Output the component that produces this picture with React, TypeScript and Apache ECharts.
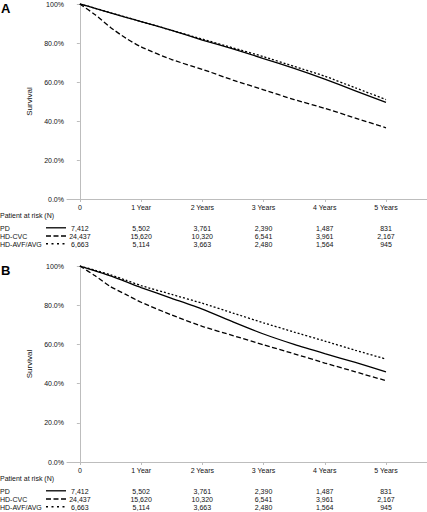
import React, { useEffect, useRef } from "react";
import * as echarts from "echarts";

// time points (years)
const years = [0, 0.25, 0.5, 0.75, 1, 1.5, 2, 2.5, 3, 3.5, 4, 4.5, 5];

// Panel A survival (%)
const aPD = [100, 97.8, 95.5, 93.2, 91, 86.5, 81.5, 77, 72, 67, 61.5, 55.5, 49.5];
const aCVC = [100, 94.5, 88, 82.5, 78, 71.5, 66.5, 61, 56, 51, 46.5, 41.5, 36.5];
const aAVF = [100, 97.8, 95.5, 93.3, 91, 86.5, 82, 77.5, 73, 68, 63, 57, 51];

// Panel B survival (%)
const bPD = [100, 97.5, 95, 92, 89, 83.5, 78, 71.5, 65.3, 60, 55.3, 50.8, 46];
const bCVC = [100, 95, 89.5, 85.5, 81.5, 75, 69.2, 64.5, 59.8, 55.2, 50.5, 46, 41.5];
const bAVF = [100, 97.8, 95.5, 92.8, 90, 85.5, 81, 76, 71, 66.3, 61.7, 57, 52.5];

const xTickValues = [0, 1, 2, 3, 4, 5];
const xTickLabels = ["0", "1 Year", "2 Years", "3 Years", "4 Years", "5 Years"];
const groups = ["PD", "HD-CVC", "HD-AVF/AVG"];
const atRiskPD = ["7,412", "5,502", "3,761", "2,390", "1,487", "831"];
const atRiskCVC = ["24,437", "15,620", "10,320", "6,541", "3,961", "2,167"];
const atRiskAVF = ["6,663", "5,114", "3,663", "2,480", "1,564", "945"];
const panelLetters = ["A", "B"];

const FONT = "Arial, 'Liberation Sans', sans-serif";
const AXIS_COLOR = "#bdbdbd";
const TEXT_COLOR = "#111";

const dashStyles: any[] = ["solid", [5, 2.5], [2, 2]];

export default function App() {
  const ref = useRef<HTMLDivElement>(null);
  useEffect(() => {
    const chart = echarts.init(ref.current!, null, { renderer: "svg" });
    const pair = (vals: number[]) => years.map((t, i) => [t, vals[i]]);
    const panelData = [
      [aPD, aCVC, aAVF],
      [bPD, bCVC, bAVF],
    ];
    const grids = [
      { left: 67, right: 0, top: 4, height: 195 },
      { left: 67, right: 0, top: 266, height: 196 },
    ];
    const xAxes = grids.map((_, gi) => ({
      type: "value",
      gridIndex: gi,
      min: -0.21,
      max: 5.67,
      axisLine: { lineStyle: { color: AXIS_COLOR, width: 1 } },
      axisTick: {
        show: true,
        length: 3,
        customValues: xTickValues,
        lineStyle: { color: AXIS_COLOR },
      },
      axisLabel: {
        customValues: xTickValues,
        formatter: (v: number) => xTickLabels[Math.round(v)],
        fontSize: 7,
        fontFamily: FONT,
        color: TEXT_COLOR,
        margin: 5,
      },
      splitLine: { show: false },
    }));
    const yAxes = grids.map((_, gi) => ({
      type: "value",
      gridIndex: gi,
      min: 0,
      max: 100,
      interval: 20,
      name: "Survival",
      nameLocation: "middle",
      nameGap: 25,
      nameTextStyle: { fontSize: 8, fontFamily: FONT, color: TEXT_COLOR },
      axisLine: { show: true, lineStyle: { color: AXIS_COLOR, width: 1 } },
      axisTick: { show: true, length: 3, lineStyle: { color: AXIS_COLOR } },
      axisLabel: {
        formatter: (v: number) => (v === 100 ? "100%" : v.toFixed(1) + "%"),
        fontSize: 7,
        fontFamily: FONT,
        color: TEXT_COLOR,
        margin: 3,
      },
      splitLine: { show: false },
    }));
    const series: any[] = [];
    panelData.forEach((arrs, gi) => {
      arrs.forEach((vals, si) => {
        series.push({
          type: "line",
          name: groups[si],
          xAxisIndex: gi,
          yAxisIndex: gi,
          data: pair(vals),
          showSymbol: false,
          symbol: "none",
          smooth: 0.2,
          lineStyle: { color: "#000", width: 1.3, type: dashStyles[si] },
          z: 3 - si,
        });
      });
    });
    chart.setOption({
      animation: false,
      backgroundColor: "#fff",
      grid: grids,
      xAxis: xAxes,
      yAxis: yAxes,
      series,
    });

    // Risk tables and panel letters, positioned from the axes
    const elements: any[] = [];
    const riskRows = [atRiskPD, atRiskCVC, atRiskAVF];
    grids.forEach((g, gi) => {
      const yTop = chart.convertToPixel({ yAxisIndex: gi } as any, 100) as number;
      const yBase = chart.convertToPixel({ yAxisIndex: gi } as any, 0) as number;
      elements.push({
        type: "text",
        x: 1,
        y: yTop - 2,
        style: {
          text: panelLetters[gi],
          fontSize: 13,
          fontWeight: "bold",
          fontFamily: FONT,
          fill: "#000",
          align: "left",
          verticalAlign: "top",
        },
      });
      elements.push({
        type: "text",
        x: 0,
        y: yBase + 16,
        style: {
          text: "Patient at risk (N)",
          fontSize: 7,
          fontFamily: FONT,
          fill: TEXT_COLOR,
          align: "left",
          verticalAlign: "middle",
        },
      });
      const rowOffsets = [29.3, 37.4, 45.2];
      riskRows.forEach((row, ri) => {
        const ry = yBase + rowOffsets[ri];
        elements.push({
          type: "text",
          x: 0,
          y: ry,
          style: {
            text: groups[ri],
            fontSize: 7,
            fontFamily: FONT,
            fill: TEXT_COLOR,
            align: "left",
            verticalAlign: "middle",
          },
        });
        elements.push({
          type: "line",
          shape: { x1: 46, y1: ry - 0.5, x2: 66, y2: ry - 0.5 },
          style: {
            stroke: "#000",
            lineWidth: ri === 0 ? 1.3 : 1.5,
            lineDash: ri === 0 ? null : ri === 1 ? [5, 2.5] : [2, 3.5],
          },
        });
        row.forEach((val, ci) => {
          const px = chart.convertToPixel({ xAxisIndex: gi } as any, xTickValues[ci]) as number;
          elements.push({
            type: "text",
            x: px,
            y: ry,
            style: {
              text: val,
              fontSize: 7,
              fontFamily: FONT,
              fill: TEXT_COLOR,
              align: "center",
              verticalAlign: "middle",
            },
          });
        });
      });
    });
    chart.setOption({ graphic: { elements } });
    return () => chart.dispose();
  }, []);
  return (
    <div
      ref={ref}
      style={{ position: "absolute", left: 0, top: 0, width: 427, height: 512 }}
    />
  );
}
